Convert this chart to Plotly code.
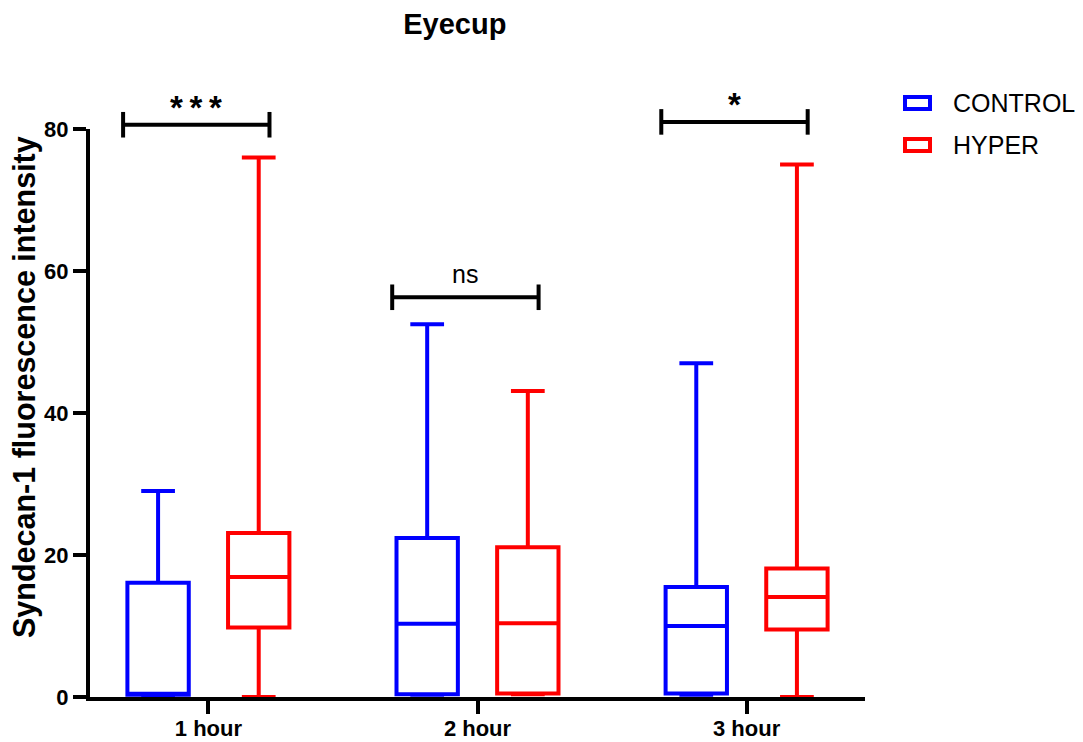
import plotly.graph_objects as go

# Time points and summary statistics (min, Q1, median, Q3, max) per group
timepoints = ["1 hour", "2 hour", "3 hour"]

control_min = [0.0, 0.3, 0.3]
control_q1 = [0.3, 0.4, 0.5]
control_median = [0.3, 10.3, 10.0]
control_q3 = [16.1, 22.4, 15.5]
control_max = [29.0, 52.5, 47.0]

hyper_min = [0.0, 0.4, 0.0]
hyper_q1 = [9.8, 0.5, 9.5]
hyper_median = [16.9, 10.4, 14.1]
hyper_q3 = [23.1, 21.1, 18.1]
hyper_max = [76.0, 43.1, 75.0]

# Significance brackets between CONTROL and HYPER at each time point
sig_labels = ["***", "ns", "*"]
sig_levels = [80.6, 56.3, 81.0]

groups = ["CONTROL", "HYPER"]
y_title = "Syndecan-1 fluorescence intensity"

Y_RANGE = [0, 80]
X_RANGE = [-0.44, 2.44]
OFFSET = 0.187      # horizontal shift of each group's box from the category centre
BOX_W = 0.228
BLUE = "#0000FF"
RED = "#FF0000"
FONT = "Arial, Liberation Sans, sans-serif"

# plot area in pixels (for the hand-placed legend and axis title)
W, H = 1083, 742
ML, MR, MT, MB = 90, 218, 129, 45
PW, PH = W - ML - MR, H - MT - MB

pos = list(range(len(timepoints)))
control_x = [p - OFFSET for p in pos]
hyper_x = [p + OFFSET for p in pos]

fig = go.Figure()


def add_box(name, xs, lo, q1, med, q3, hi, color):
    fig.add_trace(go.Box(
        name=name,
        x=xs,
        lowerfence=lo,
        q1=q1,
        median=med,
        q3=q3,
        upperfence=hi,
        width=BOX_W,
        whiskerwidth=0.55,
        boxpoints=False,
        line=dict(color=color, width=4),
        fillcolor="rgba(255,255,255,0)",
        hoverinfo="skip",
        showlegend=False,
    ))


add_box(groups[0], control_x, control_min, control_q1, control_median,
        control_q3, control_max, BLUE)
add_box(groups[1], hyper_x, hyper_min, hyper_q1, hyper_median,
        hyper_q3, hyper_max, RED)


def y_paper(v):
    return (v - Y_RANGE[0]) / (Y_RANGE[1] - Y_RANGE[0])


def px_x(p):
    return (p - ML) / PW


def px_y(p):
    return (H - MB - p) / PH


shapes = []
annotations = []
for i, (lab, lvl) in enumerate(zip(sig_labels, sig_levels)):
    x0 = control_x[i] - 0.13
    x1 = hyper_x[i] + 0.04
    line = dict(color="black", width=4)
    shapes.append(dict(type="line", xref="x", yref="paper", x0=x0, x1=x1,
                       y0=y_paper(lvl), y1=y_paper(lvl), line=line))
    for xe in (x0, x1):
        shapes.append(dict(type="line", xref="x", yref="paper", x0=xe, x1=xe,
                           y0=y_paper(lvl - 1.8), y1=y_paper(lvl + 1.8), line=line))
    is_ns = lab == "ns"
    annotations.append(dict(
        x=(x0 + x1) / 2, y=y_paper(lvl), xref="x", yref="paper",
        text=lab if is_ns else "<b>" + "\u2009".join(lab) + "</b>",
        showarrow=False, yanchor="middle",
        yshift=23 if is_ns else 17,
        font=dict(family=FONT, size=25 if is_ns else 33, color="black"),
    ))

# legend: open rectangle swatch + label for each group
for name, color, cy in zip(groups, [BLUE, RED], [103, 145]):
    shapes.append(dict(type="rect", xref="paper", yref="paper",
                       x0=px_x(905), x1=px_x(930), y0=px_y(cy + 6), y1=px_y(cy - 6),
                       line=dict(color=color, width=4), fillcolor="white"))
    annotations.append(dict(x=px_x(951), y=px_y(cy), xref="paper", yref="paper",
                            text=name, showarrow=False, xanchor="left", yanchor="middle",
                            font=dict(family=FONT, size=25, color="black")))

# rotated y-axis title
annotations.append(dict(x=px_x(24), y=px_y(387), xref="paper", yref="paper",
                        text=f"<b>{y_title}</b>", textangle=-90, showarrow=False,
                        xanchor="center", yanchor="middle",
                        font=dict(family=FONT, size=30.5, color="black")))

fig.update_layout(
    width=W,
    height=H,
    margin=dict(l=ML, r=MR, t=MT, b=MB, autoexpand=False),
    paper_bgcolor="white",
    plot_bgcolor="white",
    boxmode="overlay",
    showlegend=False,
    title=dict(
        text="<b>Eyecup</b>",
        x=0.42, xanchor="center",
        y=1 - 24 / H, yanchor="middle",
        font=dict(family=FONT, size=29, color="black"),
    ),
    font=dict(family=FONT, color="black"),
    shapes=shapes,
    annotations=annotations,
    xaxis=dict(
        range=X_RANGE,
        automargin=False,
        tickmode="array",
        tickvals=pos,
        ticktext=[f"<b>{t}</b>" for t in timepoints],
        ticks="outside",
        ticklen=13,
        tickwidth=4,
        tickcolor="black",
        tickfont=dict(family=FONT, size=22, color="black"),
        ticklabelstandoff=-4,
        showline=True,
        linecolor="black",
        linewidth=4,
        showgrid=False,
        zeroline=False,
    ),
    yaxis=dict(
        range=Y_RANGE,
        automargin=False,
        tickmode="array",
        tickvals=[0, 20, 40, 60, 80],
        ticktext=["<b>0</b>", "<b>20</b>", "<b>40</b>", "<b>60</b>", "<b>80</b>"],
        ticks="outside",
        ticklen=13,
        tickwidth=4,
        tickcolor="black",
        tickfont=dict(family=FONT, size=22, color="black"),
        showline=True,
        linecolor="black",
        linewidth=4,
        showgrid=False,
        zeroline=False,
    ),
)

fig.write_html("out.html")
